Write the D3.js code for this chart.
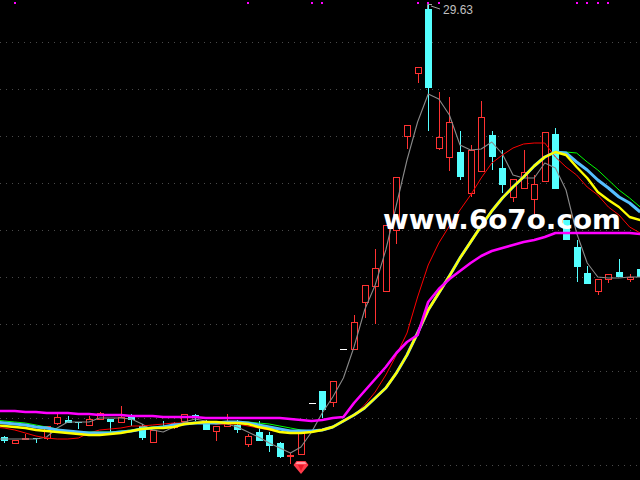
<!DOCTYPE html>
<html><head><meta charset="utf-8">
<script src="https://cdn.jsdelivr.net/npm/d3@7/dist/d3.min.js"></script>
<style>html,body{margin:0;padding:0;background:#000;overflow:hidden}svg{display:block}</style>
</head><body><svg id="c" width="640" height="480"></svg>
<script>
const toPrice=v=>30-v/20;
const gridLevels=[42,89,136,183,230,277,324,371,418,465].map(toPrice);
const bodyTop=[437,440,438,438,426,417,420,422,419,413,419,417,417,426,430,426,423,414,415,421,426,421,425,436,432,435,443,455,433,403,391,381,349,322,285,268,225,177,125,67,9,137,122,152,150,117,135,168,179,172,184,132,134,220,247,273,279,274,272,277,269].map(toPrice);
const bodyBot=[441,443,439,439,438,423,423,423,425,419,422,422,420,438,442,428,427,421,417,430,431,426,430,444,441,446,457,456,454,403,410,402,349,349,302,286,291,230,136,73,88,148,157,177,193,171,157,185,197,188,199,181,189,240,267,284,291,279,277,279,277].map(toPrice);
const highs=[436,440,434,438,426,413,416,422,416,412,419,406,414,424,430,421,422,414,414,420,426,414,420,434,421,432,442,453,431,403,391,381,349,315,285,249,225,177,125,67,4,92,97,131,145,101,131,150,179,150,175,132,128,220,240,266,279,274,259,274,269].map(toPrice);
const lows=[443,444,440,443,440,425,423,429,425,419,433,423,426,440,442,428,429,421,421,430,441,427,433,447,441,452,458,464,454,403,418,407,349,349,318,324,291,244,149,83,131,150,171,180,197,171,170,193,202,188,215,182,189,240,282,284,295,283,277,282,277].map(toPrice);
const kinds=["d","u","u","d","u","u","d","d","u","u","d","u","d","d","u","d","u","u","d","d","u","u","d","u","d","d","d","u","u","f","d","u","f","u","u","u","u","u","u","u","d","u","u","d","u","u","d","d","u","u","u","u","d","d","d","d","u","u","d","u","d"];
const ma1=[439,439,439,439,439,437,428,422,422,422,418,418,418,419,424,430,432,427,422,419,421,424,424,427,432,437,443,448,453,447,432,413,397,378,347,310,285,250,205,160,122,94,99,115,145,150,149,142,154,175,178,178,163,168,190,233,263,277,278,278,277,277].map(toPrice);
const ma2=[427,428,430,433,436,438,439,439,438,433,430,429,428,426,426,425,424,423,423,423,423,424,424,424,426,428,430,432,433,433,431,430,427,420,415,405,392,375,355,333,297,265,243,226,210,195,178,163,155,148,144,143,143,157,167,175,187,195,207,215,227,233].map(toPrice);
const ma3=[420,421,422,423,425,427,429,431,432,432,432,432,431,430,428,427,426,425,424,423,423,422,422,422,422,423,424,426,428,430,431,430,427,421,415,408,398,388,373,355,333,310,293,276,258,242,226,211,198,187,177,166,157,152,152,153,162,170,180,190,198,207].map(toPrice);
const ma4=[422,423,424,425,427,428,430,431,432,433,433,433,432,431,429,428,427,425,424,423,423,423,422,422,423,425,427,429,431,431,431,430,427,421,415,408,398,388,373,355,333,310,293,276,258,242,226,211,198,187,177,166,157,152,153,162,170,180,188,197,203,212].map(toPrice);
const ma5=[425,426,427,428,430,431,432,433,434,435,435,434,433,431,429,428,428,427,424,423,422,422,423,423,424,427,429,432,433,433,432,430,427,421,415,408,398,388,373,355,333,310,293,276,258,242,226,211,198,187,177,166,157,152,155,167,178,192,200,207,217,220].map(toPrice);
const ma6=[411,411,411,412,412,413,413,413,414,414,415,415,415,416,416,416,417,417,417,417,418,418,418,418,418,418,418,418,419,420,421,420,418,417,403,391,379,367,353,342,335,302,289,279,271,263,256,251,248,245,242,240,237,233,233,233,233,233,233,233,233,234].map(toPrice);
const flagIdx=[1,23,29,30,39,40,41,54,55,56,57];
const peakLabel="29.63";
const watermark="www.6o7o.com";

const W=640,H=480;
const svg=d3.select("#c");
svg.append("rect").attr("width",W).attr("height",H).attr("fill","#000");
const x=d3.scaleLinear().domain([0,60]).range([4.2,640.2]);
const y=d3.scaleLinear().domain([30,6]).range([0,480]);
const C={up:"#ff3232",dn:"#54ffff"};
svg.append("g").selectAll("line").data(gridLevels).join("line")
 .attr("x1",0).attr("x2",W).attr("y1",d=>Math.round(y(d))+.5).attr("y2",d=>Math.round(y(d))+.5)
 .attr("stroke","#4a4a4a").attr("stroke-dasharray","1 5");
const idx=d3.range(bodyTop.length);
const cg=svg.append("g").attr("shape-rendering","crispEdges");
const px=i=>Math.round(x(i));
cg.selectAll(".w").data(idx.filter(i=>kinds[i]!="f")).join("line")
 .attr("x1",i=>px(i)+.5).attr("x2",i=>px(i)+.5)
 .attr("y1",i=>y(highs[i])).attr("y2",i=>y(lows[i]))
 .attr("stroke",i=>kinds[i]=="u"?C.up:C.dn);
cg.selectAll(".b").data(idx).join("rect")
 .attr("x",i=>kinds[i]=="u"?px(i)-2.5:px(i)-3)
 .attr("width",i=>kinds[i]=="u"?6:7)
 .attr("y",i=>y(bodyTop[i])+(kinds[i]=="u"?.5:0))
 .attr("height",i=>Math.max(1,y(bodyBot[i])-y(bodyTop[i])))
 .attr("fill",i=>kinds[i]=="d"?C.dn:kinds[i]=="f"?"#fff":"#000")
 .attr("stroke",i=>kinds[i]=="u"?C.up:"none");
const line=a=>d3.line().x((d,i)=>x(i-1)).y(d=>y(d))(a);
[[ma1,"#8a8a8a",1.1],[ma2,"#ff0000",1],[ma3,"#00ff00",1],[ma4,"#55c0ff",3],[ma5,"#ffff00",2.4],[ma6,"#ff00ff",2.6]].forEach(([a,c,w])=>{
 svg.append("path").attr("d",line(a)).attr("fill","none").attr("stroke",c).attr("stroke-width",w).attr("stroke-linejoin","round");
});
svg.append("g").selectAll("rect").data(flagIdx).join("rect")
 .attr("x",i=>px(i)-1).attr("y",2).attr("width",2).attr("height",2).attr("fill","#ff00ff");
svg.append("path").attr("d",`M${px(40)-.5} 9V4.5H${px(40)+4}M${px(40)+3} 6L${px(40)+12} 9`).attr("fill","none").attr("stroke","#a0a0a0");
svg.append("text").attr("x",443).attr("y",14).attr("fill","#c0c0c0").attr("font-family","Liberation Sans").attr("font-size",13).attr("textLength",30).attr("lengthAdjust","spacingAndGlyphs").text(peakLabel);
const gx=x(28),gy=y(toPrice(467));
const gem=svg.append("g").attr("transform",`translate(${gx},${gy})`);
gem.append("path").attr("d","M-4.5 -6H4.5L7.5 -2L0 7L-7.5 -2Z").attr("fill","#ff3b4a");
gem.append("path").attr("d","M-4 -5H4L5.5 -3H-5.5Z").attr("fill","#ff9aa4");
gem.append("path").attr("d","M-3 -2H3L0 4Z").attr("fill","#e81828");
svg.append("text").attr("x",383).attr("y",229).attr("fill","#fff").attr("font-family","DejaVu Sans").attr("font-weight","bold").attr("font-size",27).attr("textLength",238).attr("lengthAdjust","spacingAndGlyphs").text(watermark);
</script></body></html>
